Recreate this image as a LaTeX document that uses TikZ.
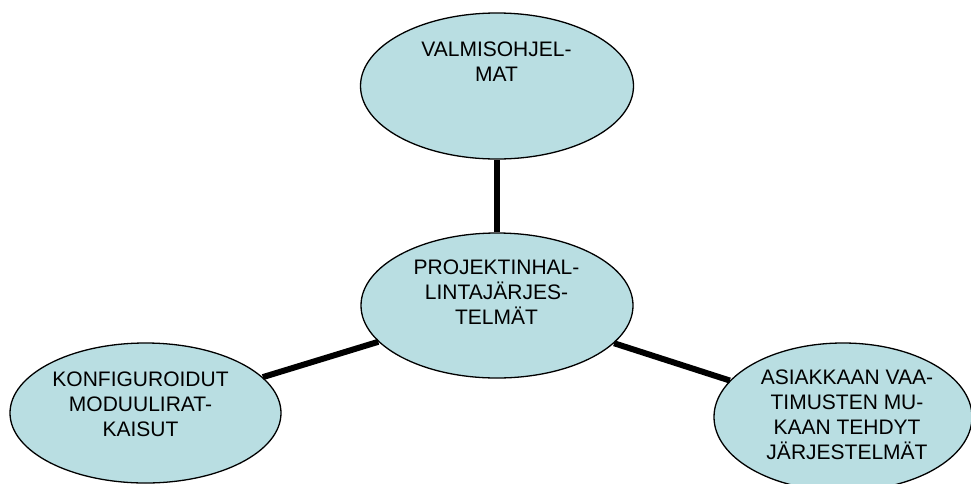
\documentclass[tikz,border=0pt]{standalone}
\usepackage{fontspec}
\setmainfont{Liberation Sans}
\usetikzlibrary{shapes.geometric}
\definecolor{bubble}{RGB}{185,222,226}
\begin{document}
\begin{tikzpicture}[x=1pt,y=-1pt,
  bub/.style={ellipse,draw=black,line width=1.3pt,fill=bubble,inner sep=0pt},
  lbl/.style={anchor=north,inner sep=0pt,align=center,font=\fontsize{21}{25}\selectfont},
  conn/.style={line width=6pt}]
\useasboundingbox (0,0) rectangle (971,483);
\clip (0,0) rectangle (971,483);
\node[bub,minimum width=273pt,minimum height=146pt] (top) at (497,86) {};
\node[bub,minimum width=272pt,minimum height=145pt] (mid) at (497,305.5) {};
\node[bub,minimum width=271pt,minimum height=140pt] (left) at (145.5,413) {};
\node[bub,minimum width=258pt,minimum height=148pt] (right) at (843,417) {};
\draw[conn] (mid) -- (top);
\draw[conn] (mid) -- (left);
\draw[conn] (mid) -- (right);
\node[lbl] (ttop) at (496.5,42) {VALMISOHJEL-\\MAT};
\node[lbl] (tmid) at (496.5,260) {PROJEKTINHAL-\\LINTAJÄRJES-\\TELMÄT};
\node[lbl] (tleft) at (140.5,372) {KONFIGUROIDUT\\MODUULIRAT-\\KAISUT};
\node[lbl] (tright) at (847,370) {ASIAKKAAN VAA-\\TIMUSTEN MU-\\KAAN TEHDYT\\JÄRJESTELMÄT};
\end{tikzpicture}
\end{document}
